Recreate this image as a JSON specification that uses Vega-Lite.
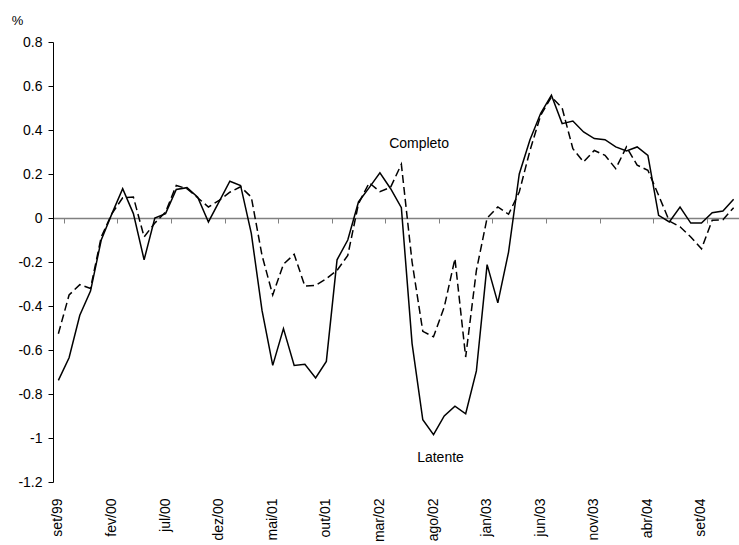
{
  "$schema": "https://vega.github.io/schema/vega-lite/v6.json",
  "width": 686,
  "height": 440,
  "autosize": {"type": "none"},
  "padding": {"left": 53, "top": 42, "right": 0, "bottom": 63},
  "background": "white",
  "config": {
    "font": "Liberation Sans",
    "view": {"stroke": null},
    "axis": {"grid": false, "labelColor": "black", "titleColor": "black", "labelFont": "Liberation Sans", "titleFont": "Liberation Sans"}
  },
  "data": {
    "values": [
      {"mes": "set/99", "latente": -0.738, "completo": -0.526},
      {"mes": "out/99", "latente": -0.635, "completo": -0.35},
      {"mes": "nov/99", "latente": -0.442, "completo": -0.303},
      {"mes": "dez/99", "latente": -0.332, "completo": -0.32},
      {"mes": "jan/00", "latente": -0.1, "completo": -0.086},
      {"mes": "fev/00", "latente": 0.02, "completo": 0.02},
      {"mes": "mar/00", "latente": 0.133, "completo": 0.092},
      {"mes": "abr/00", "latente": 0.02, "completo": 0.095},
      {"mes": "mai/00", "latente": -0.19, "completo": -0.086},
      {"mes": "jun/00", "latente": 0.0, "completo": -0.023},
      {"mes": "jul/00", "latente": 0.02, "completo": 0.027},
      {"mes": "ago/00", "latente": 0.13, "completo": 0.148},
      {"mes": "set/00", "latente": 0.138, "completo": 0.133},
      {"mes": "out/00", "latente": 0.095, "completo": 0.092},
      {"mes": "nov/00", "latente": -0.018, "completo": 0.05},
      {"mes": "dez/00", "latente": 0.074, "completo": 0.08},
      {"mes": "jan/01", "latente": 0.167, "completo": 0.117},
      {"mes": "fev/01", "latente": 0.148, "completo": 0.142},
      {"mes": "mar/01", "latente": -0.07, "completo": 0.095},
      {"mes": "abr/01", "latente": -0.42, "completo": -0.17},
      {"mes": "mai/01", "latente": -0.67, "completo": -0.35},
      {"mes": "jun/01", "latente": -0.503, "completo": -0.21},
      {"mes": "jul/01", "latente": -0.67, "completo": -0.165},
      {"mes": "ago/01", "latente": -0.665, "completo": -0.31},
      {"mes": "set/01", "latente": -0.727, "completo": -0.306},
      {"mes": "out/01", "latente": -0.652, "completo": -0.276},
      {"mes": "nov/01", "latente": -0.19, "completo": -0.238},
      {"mes": "dez/01", "latente": -0.1, "completo": -0.17},
      {"mes": "jan/02", "latente": 0.073, "completo": 0.065},
      {"mes": "fev/02", "latente": 0.138, "completo": 0.16},
      {"mes": "mar/02", "latente": 0.205, "completo": 0.12},
      {"mes": "abr/02", "latente": 0.133, "completo": 0.14},
      {"mes": "mai/02", "latente": 0.047, "completo": 0.244},
      {"mes": "jun/02", "latente": -0.571, "completo": -0.2},
      {"mes": "jul/02", "latente": -0.917, "completo": -0.515},
      {"mes": "ago/02", "latente": -0.985, "completo": -0.54},
      {"mes": "set/02", "latente": -0.9, "completo": -0.405},
      {"mes": "out/02", "latente": -0.855, "completo": -0.185},
      {"mes": "nov/02", "latente": -0.89, "completo": -0.632},
      {"mes": "dez/02", "latente": -0.695, "completo": -0.238},
      {"mes": "jan/03", "latente": -0.212, "completo": 0.0},
      {"mes": "fev/03", "latente": -0.386, "completo": 0.05},
      {"mes": "mar/03", "latente": -0.155, "completo": 0.017},
      {"mes": "abr/03", "latente": 0.2, "completo": 0.118},
      {"mes": "mai/03", "latente": 0.356, "completo": 0.307},
      {"mes": "jun/03", "latente": 0.476, "completo": 0.467},
      {"mes": "jul/03", "latente": 0.558, "completo": 0.55},
      {"mes": "ago/03", "latente": 0.429, "completo": 0.5},
      {"mes": "set/03", "latente": 0.441, "completo": 0.315},
      {"mes": "out/03", "latente": 0.391, "completo": 0.255},
      {"mes": "nov/03", "latente": 0.361, "completo": 0.307},
      {"mes": "dez/03", "latente": 0.356, "completo": 0.285},
      {"mes": "jan/04", "latente": 0.323, "completo": 0.224},
      {"mes": "fev/04", "latente": 0.305, "completo": 0.323},
      {"mes": "mar/04", "latente": 0.323, "completo": 0.24},
      {"mes": "abr/04", "latente": 0.285, "completo": 0.217},
      {"mes": "mai/04", "latente": 0.012, "completo": 0.103},
      {"mes": "jun/04", "latente": -0.018, "completo": -0.014},
      {"mes": "jul/04", "latente": 0.05, "completo": -0.04},
      {"mes": "ago/04", "latente": -0.023, "completo": -0.086},
      {"mes": "set/04", "latente": -0.023, "completo": -0.14},
      {"mes": "out/04", "latente": 0.024, "completo": -0.01},
      {"mes": "nov/04", "latente": 0.032, "completo": -0.008},
      {"mes": "dez/04", "latente": 0.085, "completo": 0.047}
    ]
  },
  "layer": [
    {
      "mark": {"type": "line", "color": "black", "strokeWidth": 1.5, "strokeDash": [8, 4]},
      "encoding": {
        "x": {
          "field": "mes", "type": "ordinal", "sort": null,
          "scale": {"type": "band", "paddingInner": 0, "paddingOuter": 0},
          "axis": {
            "orient": "bottom", "offset": -264, "title": null, "labels": false,
            "domainColor": "#808080", "domainWidth": 1.5,
            "ticks": true, "tickColor": "#808080", "tickWidth": 1, "tickSize": 5, "tickBand": "extent",
            "values": ["set/99", "fev/00", "jul/00", "dez/00", "mai/01", "out/01", "mar/02", "ago/02", "jan/03", "jun/03", "nov/03", "abr/04", "set/04"]
          }
        },
        "y": {
          "field": "completo", "type": "quantitative",
          "scale": {"domain": [-1.2, 0.8], "nice": false, "zero": false},
          "axis": {
            "values": [-1.2, -1, -0.8, -0.6, -0.4, -0.2, 0, 0.2, 0.4, 0.6, 0.8],
            "labelExpr": "'' + round(datum.value*10)/10",
            "labelFontSize": 14, "labelPadding": 6,
            "domainColor": "black", "domainWidth": 1, "tickColor": "black", "tickSize": 5,
            "title": "%", "titleAngle": 0, "titleFontSize": 13, "titleFontWeight": "normal",
            "titleX": -36, "titleY": -22, "titleAlign": "center", "titleBaseline": "middle"
          }
        }
      }
    },
    {
      "mark": {"type": "line", "color": "black", "strokeWidth": 1.5},
      "encoding": {
        "x": {
          "field": "mes", "type": "ordinal", "sort": null,
          "axis": {
            "orient": "bottom", "title": null, "domain": false, "ticks": false, "tickSize": 0,
            "labelAngle": -90, "labelFontSize": 14, "labelPadding": 16,
            "values": ["set/99", "fev/00", "jul/00", "dez/00", "mai/01", "out/01", "mar/02", "ago/02", "jan/03", "jun/03", "nov/03", "abr/04", "set/04"]
          }
        },
        "y": {"field": "latente", "type": "quantitative"}
      }
    },
    {
      "data": {
        "values": [
          {"mes": "jun/02", "valor": 0.335, "rotulo": "Completo"},
          {"mes": "ago/02", "valor": -1.092, "rotulo": "Latente"}
        ]
      },
      "mark": {"type": "text", "fontSize": 14, "color": "black", "align": "center", "baseline": "middle", "dx": 7},
      "encoding": {
        "x": {"field": "mes", "type": "ordinal", "sort": null, "axis": null},
        "y": {"field": "valor", "type": "quantitative"},
        "text": {"field": "rotulo"}
      }
    }
  ],
  "resolve": {"axis": {"x": "independent"}}
}
